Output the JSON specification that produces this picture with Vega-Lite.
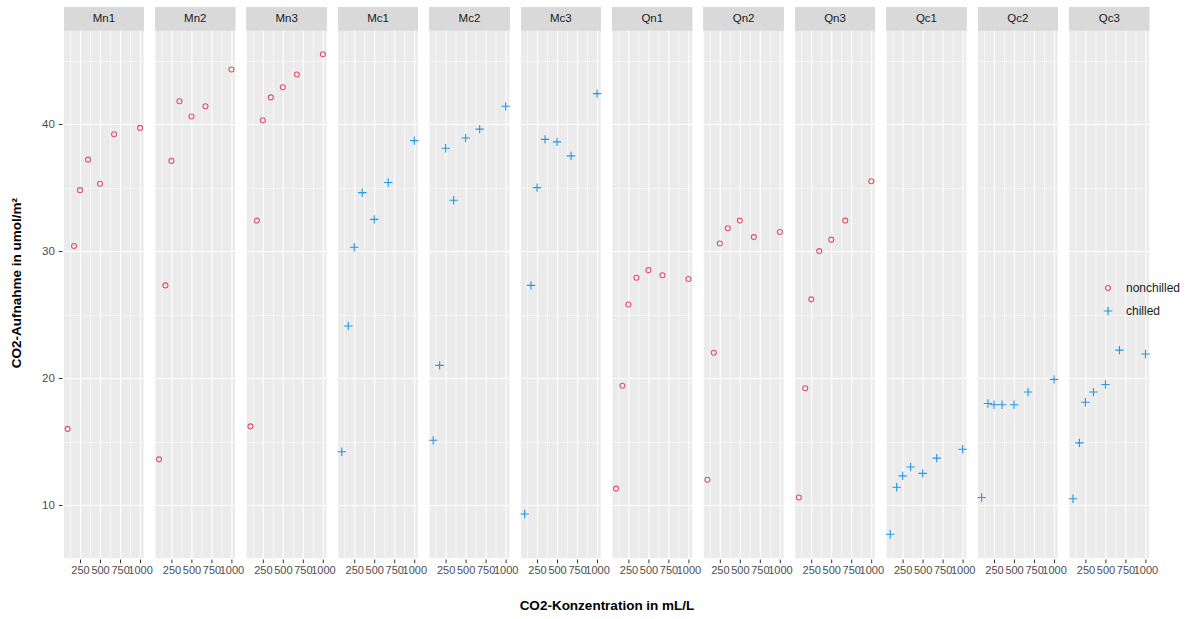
{
  "$schema": "https://vega.github.io/schema/vega-lite/v6.json",
  "padding": {"left": 9, "top": 7, "right": 5, "bottom": 5},
  "background": "white",
  "config": {
    "font": "Liberation Sans",
    "view": {"stroke": null},
    "legend": {"labelFontSize": 12, "labelColor": "#1A1A1A", "rowPadding": 10, "symbolStrokeWidth": 1.2, "labelOffset": 12}
  },
  "data": {"values": [
      {"panel": "Mn1", "Treatment": "nonchilled", "conc": 95, "uptake": 16.0},
      {"panel": "Mn1", "Treatment": "nonchilled", "conc": 175, "uptake": 30.4},
      {"panel": "Mn1", "Treatment": "nonchilled", "conc": 250, "uptake": 34.8},
      {"panel": "Mn1", "Treatment": "nonchilled", "conc": 350, "uptake": 37.2},
      {"panel": "Mn1", "Treatment": "nonchilled", "conc": 500, "uptake": 35.3},
      {"panel": "Mn1", "Treatment": "nonchilled", "conc": 675, "uptake": 39.2},
      {"panel": "Mn1", "Treatment": "nonchilled", "conc": 1000, "uptake": 39.7},
      {"panel": "Mn2", "Treatment": "nonchilled", "conc": 95, "uptake": 13.6},
      {"panel": "Mn2", "Treatment": "nonchilled", "conc": 175, "uptake": 27.3},
      {"panel": "Mn2", "Treatment": "nonchilled", "conc": 250, "uptake": 37.1},
      {"panel": "Mn2", "Treatment": "nonchilled", "conc": 350, "uptake": 41.8},
      {"panel": "Mn2", "Treatment": "nonchilled", "conc": 500, "uptake": 40.6},
      {"panel": "Mn2", "Treatment": "nonchilled", "conc": 675, "uptake": 41.4},
      {"panel": "Mn2", "Treatment": "nonchilled", "conc": 1000, "uptake": 44.3},
      {"panel": "Mn3", "Treatment": "nonchilled", "conc": 95, "uptake": 16.2},
      {"panel": "Mn3", "Treatment": "nonchilled", "conc": 175, "uptake": 32.4},
      {"panel": "Mn3", "Treatment": "nonchilled", "conc": 250, "uptake": 40.3},
      {"panel": "Mn3", "Treatment": "nonchilled", "conc": 350, "uptake": 42.1},
      {"panel": "Mn3", "Treatment": "nonchilled", "conc": 500, "uptake": 42.9},
      {"panel": "Mn3", "Treatment": "nonchilled", "conc": 675, "uptake": 43.9},
      {"panel": "Mn3", "Treatment": "nonchilled", "conc": 1000, "uptake": 45.5},
      {"panel": "Mc1", "Treatment": "chilled", "conc": 95, "uptake": 14.2},
      {"panel": "Mc1", "Treatment": "chilled", "conc": 175, "uptake": 24.1},
      {"panel": "Mc1", "Treatment": "chilled", "conc": 250, "uptake": 30.3},
      {"panel": "Mc1", "Treatment": "chilled", "conc": 350, "uptake": 34.6},
      {"panel": "Mc1", "Treatment": "chilled", "conc": 500, "uptake": 32.5},
      {"panel": "Mc1", "Treatment": "chilled", "conc": 675, "uptake": 35.4},
      {"panel": "Mc1", "Treatment": "chilled", "conc": 1000, "uptake": 38.7},
      {"panel": "Mc2", "Treatment": "chilled", "conc": 95, "uptake": 15.1},
      {"panel": "Mc2", "Treatment": "chilled", "conc": 175, "uptake": 21.0},
      {"panel": "Mc2", "Treatment": "chilled", "conc": 250, "uptake": 38.1},
      {"panel": "Mc2", "Treatment": "chilled", "conc": 350, "uptake": 34.0},
      {"panel": "Mc2", "Treatment": "chilled", "conc": 500, "uptake": 38.9},
      {"panel": "Mc2", "Treatment": "chilled", "conc": 675, "uptake": 39.6},
      {"panel": "Mc2", "Treatment": "chilled", "conc": 1000, "uptake": 41.4},
      {"panel": "Mc3", "Treatment": "chilled", "conc": 95, "uptake": 9.3},
      {"panel": "Mc3", "Treatment": "chilled", "conc": 175, "uptake": 27.3},
      {"panel": "Mc3", "Treatment": "chilled", "conc": 250, "uptake": 35.0},
      {"panel": "Mc3", "Treatment": "chilled", "conc": 350, "uptake": 38.8},
      {"panel": "Mc3", "Treatment": "chilled", "conc": 500, "uptake": 38.6},
      {"panel": "Mc3", "Treatment": "chilled", "conc": 675, "uptake": 37.5},
      {"panel": "Mc3", "Treatment": "chilled", "conc": 1000, "uptake": 42.4},
      {"panel": "Qn1", "Treatment": "nonchilled", "conc": 95, "uptake": 11.3},
      {"panel": "Qn1", "Treatment": "nonchilled", "conc": 175, "uptake": 19.4},
      {"panel": "Qn1", "Treatment": "nonchilled", "conc": 250, "uptake": 25.8},
      {"panel": "Qn1", "Treatment": "nonchilled", "conc": 350, "uptake": 27.9},
      {"panel": "Qn1", "Treatment": "nonchilled", "conc": 500, "uptake": 28.5},
      {"panel": "Qn1", "Treatment": "nonchilled", "conc": 675, "uptake": 28.1},
      {"panel": "Qn1", "Treatment": "nonchilled", "conc": 1000, "uptake": 27.8},
      {"panel": "Qn2", "Treatment": "nonchilled", "conc": 95, "uptake": 12.0},
      {"panel": "Qn2", "Treatment": "nonchilled", "conc": 175, "uptake": 22.0},
      {"panel": "Qn2", "Treatment": "nonchilled", "conc": 250, "uptake": 30.6},
      {"panel": "Qn2", "Treatment": "nonchilled", "conc": 350, "uptake": 31.8},
      {"panel": "Qn2", "Treatment": "nonchilled", "conc": 500, "uptake": 32.4},
      {"panel": "Qn2", "Treatment": "nonchilled", "conc": 675, "uptake": 31.1},
      {"panel": "Qn2", "Treatment": "nonchilled", "conc": 1000, "uptake": 31.5},
      {"panel": "Qn3", "Treatment": "nonchilled", "conc": 95, "uptake": 10.6},
      {"panel": "Qn3", "Treatment": "nonchilled", "conc": 175, "uptake": 19.2},
      {"panel": "Qn3", "Treatment": "nonchilled", "conc": 250, "uptake": 26.2},
      {"panel": "Qn3", "Treatment": "nonchilled", "conc": 350, "uptake": 30.0},
      {"panel": "Qn3", "Treatment": "nonchilled", "conc": 500, "uptake": 30.9},
      {"panel": "Qn3", "Treatment": "nonchilled", "conc": 675, "uptake": 32.4},
      {"panel": "Qn3", "Treatment": "nonchilled", "conc": 1000, "uptake": 35.5},
      {"panel": "Qc1", "Treatment": "chilled", "conc": 95, "uptake": 7.7},
      {"panel": "Qc1", "Treatment": "chilled", "conc": 175, "uptake": 11.4},
      {"panel": "Qc1", "Treatment": "chilled", "conc": 250, "uptake": 12.3},
      {"panel": "Qc1", "Treatment": "chilled", "conc": 350, "uptake": 13.0},
      {"panel": "Qc1", "Treatment": "chilled", "conc": 500, "uptake": 12.5},
      {"panel": "Qc1", "Treatment": "chilled", "conc": 675, "uptake": 13.7},
      {"panel": "Qc1", "Treatment": "chilled", "conc": 1000, "uptake": 14.4},
      {"panel": "Qc2", "Treatment": "chilled", "conc": 95, "uptake": 10.6},
      {"panel": "Qc2", "Treatment": "chilled", "conc": 175, "uptake": 18.0},
      {"panel": "Qc2", "Treatment": "chilled", "conc": 250, "uptake": 17.9},
      {"panel": "Qc2", "Treatment": "chilled", "conc": 350, "uptake": 17.9},
      {"panel": "Qc2", "Treatment": "chilled", "conc": 500, "uptake": 17.9},
      {"panel": "Qc2", "Treatment": "chilled", "conc": 675, "uptake": 18.9},
      {"panel": "Qc2", "Treatment": "chilled", "conc": 1000, "uptake": 19.9},
      {"panel": "Qc3", "Treatment": "chilled", "conc": 95, "uptake": 10.5},
      {"panel": "Qc3", "Treatment": "chilled", "conc": 175, "uptake": 14.9},
      {"panel": "Qc3", "Treatment": "chilled", "conc": 250, "uptake": 18.1},
      {"panel": "Qc3", "Treatment": "chilled", "conc": 350, "uptake": 18.9},
      {"panel": "Qc3", "Treatment": "chilled", "conc": 500, "uptake": 19.5},
      {"panel": "Qc3", "Treatment": "chilled", "conc": 675, "uptake": 22.2},
      {"panel": "Qc3", "Treatment": "chilled", "conc": 1000, "uptake": 21.9}
  ]},
  "facet": {
    "column": {
      "field": "panel", "type": "nominal",
      "sort": ["Mn1", "Mn2", "Mn3", "Mc1", "Mc2", "Mc3", "Qn1", "Qn2", "Qn3", "Qc1", "Qc2", "Qc3"],
      "header": {"labels": false, "title": "CO2-Konzentration in mL/L", "titleOrient": "bottom", "titleFontSize": 13.5, "titleFontWeight": "bold", "titleColor": "#000000", "titlePadding": 13}
    }
  },
  "spacing": 5.4,
  "spec": {
    "width": 79.7,
    "height": 551.3,
    "view": {"fill": "#EBEBEB", "stroke": null},
    "layer": [
      {
        "mark": {"type": "point", "filled": false, "strokeWidth": 1.1, "opacity": 1},
        "encoding": {
          "x": {"field": "conc", "type": "quantitative",
            "scale": {"domain": [49.75, 1045.25], "nice": false, "zero": false},
            "axis": {"orient": "bottom", "values": [125, 250, 375, 500, 625, 750, 875, 1000], "tickCount": 50, "format": "d",
              "labelExpr": "datum.value % 250 === 0 ? datum.label : ''",
              "grid": true, "gridColor": "#FFFFFF",
              "gridWidth": {"condition": {"test": "datum.value % 250 !== 0", "value": 0.55}, "value": 1.1},
              "domain": false, "tickColor": "#333333", "tickSize": 3.7, "tickWidth": 1,
              "tickOpacity": {"condition": {"test": "datum.value % 250 !== 0", "value": 0}, "value": 1},
              "labelFontSize": 11, "labelColor": "#4D4D4D", "labelPadding": 2, "labelOverlap": false, "labelFlush": false, "labelBound": false, "title": null}},
          "y": {"field": "uptake", "type": "quantitative",
            "scale": {"domain": [5.81, 49.22], "nice": false, "zero": false},
            "axis": {"orient": "left", "values": [10, 15, 20, 25, 30, 35, 40, 45], "tickCount": 50,
              "labelExpr": "datum.value % 10 === 0 ? datum.label : ''",
              "grid": true, "gridColor": "#FFFFFF",
              "gridWidth": {"condition": {"test": "datum.value % 10 !== 0", "value": 0.55}, "value": 1.1},
              "domain": false, "tickColor": "#333333", "tickSize": 3.7, "tickWidth": 1,
              "tickOpacity": {"condition": {"test": "datum.value % 10 !== 0", "value": 0}, "value": 1},
              "labelFontSize": 11.5, "labelColor": "#4D4D4D", "labelPadding": 4,
              "title": "CO2-Aufnahme in umol/m²", "titleFontSize": 13.5, "titleFontWeight": "bold", "titleColor": "#000000", "titlePadding": 18}},
          "color": {"field": "Treatment", "type": "nominal", "scale": {"domain": ["nonchilled", "chilled"], "range": ["#DF536B", "#2297E6"]},
            "legend": {"title": null, "orient": "none", "legendX": 1038, "legendY": 275}},
          "shape": {"field": "Treatment", "type": "nominal", "scale": {"domain": ["nonchilled", "chilled"], "range": ["circle", "M-1,0H1M0,-1V1"]},
            "legend": {"title": null, "orient": "none", "legendX": 1038, "legendY": 275}},
          "size": {"field": "Treatment", "type": "ordinal", "scale": {"domain": ["nonchilled", "chilled"], "range": [25, 70]},
            "legend": {"title": null, "orient": "none", "legendX": 1038, "legendY": 275}}
        }
      },
      {
        "mark": {"type": "rect", "fill": "#D9D9D9", "stroke": null},
        "encoding": {
          "x": {"datum": 49.75, "type": "quantitative"},
          "x2": {"datum": 1045.25},
          "y": {"datum": 47.39, "type": "quantitative"},
          "y2": {"datum": 49.22}
        }
      },
      {
        "transform": [{"aggregate": [], "groupby": ["panel"]}],
        "mark": {"type": "text", "fontSize": 11.5, "color": "#1A1A1A", "baseline": "middle", "align": "center"},
        "encoding": {
          "x": {"datum": 547.5, "type": "quantitative"},
          "y": {"datum": 48.3, "type": "quantitative"},
          "text": {"field": "panel", "type": "nominal"}
        }
      }
    ]
  }
}
